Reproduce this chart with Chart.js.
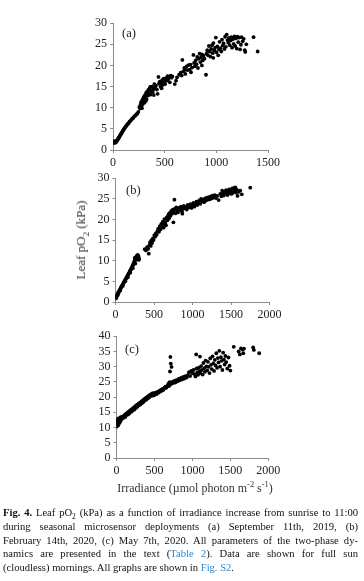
<!DOCTYPE html>
<html>
<head>
<meta charset="utf-8">
<script src="https://cdn.jsdelivr.net/npm/chart.js@4"></script>
<style>
    body { margin: 0; background: #fff; width: 364px; height: 581px; position: relative; overflow: hidden; font-family: "Liberation Serif", serif; color: #222; }
    canvas { position: absolute; }
    .tag { position: absolute; font-size: 12.5px; line-height: 1; }
    #ytitle { position: absolute; left: 81px; top: 240px; transform: translate(-50%, -50%) rotate(-90deg); white-space: nowrap; font-size: 13px; font-weight: normal; color: #333; }
    #xtitle { position: absolute; left: 195px; top: 488px; transform: translate(-50%, -50%); white-space: nowrap; font-size: 12px; color: #333; }
    sub, sup { font-size: 70%; line-height: 0; }
    #caption { position: absolute; left: 3px; top: 506px; width: 355px; font-size: 10.6px; line-height: 13.8px; color: #111; }
    #caption div { text-align: justify; text-align-last: justify; white-space: nowrap; }
    #caption div.last { text-align-last: left; }
    .lnk { color: #2e8bd0; }
</style>
</head>
<body>
<canvas id="panelA" width="230" height="159"></canvas>
<canvas id="panelB" width="230" height="156"></canvas>
<canvas id="panelC" width="230" height="154"></canvas>

<div class="tag" style="left:122px; top:27px;">(a)</div>
<div class="tag" style="left:126px; top:184px;">(b)</div>
<div class="tag" style="left:125px; top:343px;">(c)</div>

<div id="ytitle">Leaf pO<sub>2</sub> (kPa)</div>
<div id="xtitle">Irradiance (µmol photon m<sup>-2</sup> s<sup>-1</sup>)</div>

<div id="caption">
    <div><b>Fig. 4.</b> Leaf pO<sub>2</sub> (kPa) as a function of irradiance increase from sunrise to 11:00</div>
    <div>during seasonal microsensor deployments (a) September 11th, 2019, (b)</div>
    <div>February 14th, 2020, (c) May 7th, 2020. All parameters of the two-phase dy-</div>
    <div>namics are presented in the text (<span class="lnk">Table 2</span>). Data are shown for full sun</div>
    <div class="last">(cloudless) mornings. All graphs are shown in <span class="lnk">Fig. S2</span>.</div>
</div>

<script>
// (a) September 11th, 2019
const aX = [3,6,9,12,15,18,21,24,27,30,33,36,40,44,48,52,56,60,65,70,75,80,85,90,95,100,105,110,116,122,128,134,140,146,152,160,168,176,185,195,205,215,225,235,245,
    255,262,268,272,278,283,288,292,296,300,305,310,315,320,325,330,338,342,350,355,362,370,378,385,392,400,408,415,425,432,440,445,452,460,468,475,483,490,498,505,
    512,520,528,535,542,550,558,566,575,598,620,640,655,665,671,680,690,700,712,720,730,742,755,765,778,785,792,800,808,815,822,830,838,845,852,860,868,876,885,900,
    905,912,920,928,935,942,950,958,965,970,972,980,988,995,1002,1010,1018,1025,1032,1040,1048,1055,1062,1070,1078,1085,1092,1100,1108,1115,1122,1130,1138,1145,1152,
    1160,1168,1175,1182,1190,1198,1205,1212,1220,1230,1238,1245,1255,1265,1275,1280,1290,1360,1400,
    280,318,360,395,470,530,610,700,750,860];
const aY = [1.9,1.7,2.0,1.8,2.1,1.7,1.9,2.0,1.8,2.1,2.0,2.2,2.3,2.4,2.6,2.8,2.9,3.1,3.3,3.5,3.7,3.9,4.1,4.3,4.5,4.7,4.9,5.1,5.3,5.5,5.7,5.9,6.1,6.2,6.4,6.7,6.9,7.1,7.4,7.6,7.9,8.1,8.4,8.6,9.0,
    10.2,9.8,10.8,11.3,10.5,11.8,10.9,12.2,11.5,12.6,11.2,13.0,12.4,13.5,12.0,13.8,12.9,14.2,13.4,14.6,13.1,14.0,15.0,13.7,14.4,15.6,14.8,15.2,14.3,13.3,17.3,15.7,16.2,15.0,15.8,16.5,15.4,16.9,16.2,15.6,
    17.0,16.4,17.5,16.8,17.2,16.0,17.6,17.1,17.4,15.6,17.2,17.8,18.3,17.6,21.3,18.6,19.4,18.0,19.8,18.9,20.1,19.0,18.4,19.5,22.5,20.6,19.8,21.2,20.3,22.0,19.4,21.6,22.8,20.8,21.9,22.6,21.2,22.3,21.6,17.8,
    22.8,23.6,22.4,24.6,23.3,22.1,23.9,24.8,22.9,21.8,25.3,23.6,24.2,26.6,23.1,24.5,22.4,23.8,25.6,24.1,23.3,26.1,24.7,25.2,23.9,26.8,24.4,27.3,26.0,25.4,26.5,24.8,25.9,26.7,24.2,
    26.2,25.1,26.9,24.6,26.4,24.0,26.8,25.5,26.6,23.8,24.9,26.7,25.7,26.3,23.6,23.2,25.0,26.7,23.3,
    9.9,11.6,14.9,13.0,14.6,16.6,16.4,19.0,20.2,20.0];

// (b) February 14th, 2020
const bX = [2,5,8,11,14,17,20,24,28,32,36,40,45,50,55,60,65,70,75,80,86,92,98,104,110,116,122,128,134,140,146,152,158,164,170,176,182,188,194,200,206,212,218,224,230,236,242,248,254,260,266,272,278,284,290,296,302,308,
    250,262,275,288,300,
    380,395,410,425,432,440,450,458,465,475,485,495,505,515,525,535,545,555,565,575,585,595,605,615,625,635,645,655,665,675,685,695,705,715,725,735,745,752,760,765,772,780,790,800,812,825,838,850,862,868,875,888,
    900,912,925,938,950,962,975,988,1000,1012,1025,1038,1050,1062,1075,1088,1100,1112,1125,1138,1150,1162,1175,1188,1200,1212,1225,1238,1250,1262,1275,1290,1305,1320,1340,1360,1375,1385,1395,1405,1415,1425,
    1435,1445,1455,1465,1475,1485,1495,1505,1515,1525,1535,1545,1555,1565,1575,1585,1600,1620,1640,1750,
    30,62,95,128,160,192,225,258,620,690,740,1520,1550,1580];
const bY = [1.0,1.2,0.9,1.4,1.3,1.6,1.5,1.9,1.8,2.1,2.3,2.2,2.6,2.7,2.9,3.1,3.2,3.5,3.6,3.8,4.0,4.2,4.4,4.6,4.8,5.0,5.2,5.4,5.6,5.8,6.0,6.2,6.4,6.6,6.9,7.0,7.3,7.5,7.7,7.9,8.1,8.4,8.6,8.8,9.1,9.4,9.7,10.0,10.3,10.6,10.8,10.5,10.9,11.0,10.7,11.2,10.9,10.4,
    10.7,10.2,11.2,11.4,10.2,
    12.8,12.5,13.3,12.9,11.7,13.8,14.5,13.6,14.9,14.3,15.4,15.0,16.2,15.8,16.7,16.3,17.2,17.8,17.0,18.4,17.6,18.9,18.2,19.5,18.0,20.1,19.2,18.6,20.5,19.8,21.0,20.3,21.6,20.9,22.1,21.4,22.4,19.3,21.8,24.8,22.6,21.5,22.9,22.2,21.7,22.8,22.3,23.1,22.0,21.4,22.6,23.3,
    22.7,23.0,22.4,23.5,22.9,23.2,23.7,22.8,23.4,24.0,23.1,23.8,24.3,23.5,24.1,24.6,23.8,25.0,24.4,24.8,24.2,25.1,24.6,25.3,24.8,25.4,24.9,25.6,25.1,25.8,25.3,25.9,25.2,25.7,24.7,26.2,25.6,27.0,26.4,25.8,26.7,26.1,
    27.1,26.5,25.9,26.8,27.3,26.4,27.0,26.2,27.5,26.8,27.6,26.9,27.8,26.5,27.2,25.7,26.7,27.0,26.1,27.7,
    1.7,2.8,3.9,5.0,6.0,7.1,8.2,9.3,18.9,21.3,22.0,26.4,27.2,26.9];

// (c) May 7th, 2020
const cX = [2,4,6,8,10,12,14,16,18,20,22,25,28,30,33,36,40,44,48,52,56,60,65,70,75,80,85,
    100,110,120,130,140,150,160,170,180,190,200,210,220,230,240,250,260,270,280,290,300,310,320,330,340,350,360,370,380,390,400,410,420,430,440,450,460,470,480,490,500,
    510,520,530,540,555,570,585,600,615,630,645,660,675,685,695,700,710,715,725,720,735,745,760,775,790,805,820,835,850,865,880,895,910,925,940,955,970,985,1000,1015,1030,1040,
    1050,1055,1065,1075,1085,1095,1100,1105,1115,1125,1135,1145,1155,1165,1175,1185,1195,1205,1215,1225,1235,1245,1255,1265,1275,1285,1295,1305,1315,1325,1335,1345,1355,1365,1375,1385,1395,1405,
    1415,1425,1435,1445,1460,1475,1490,1500,1545,1610,1625,1640,1660,1670,1680,1800,1810,1880,
    5,15,25,35,45,55,95,115,135,155,175,195,215,235,255,275,295,315,335,355,375,395,415,435,455,475,495,530,560,590,620,650,680,705];
const cY = [10.3,11.8,12.6,11.0,12.2,10.6,11.5,12.9,11.2,12.4,10.9,11.7,12.8,11.3,12.0,13.1,11.6,12.5,12.1,13.0,12.3,12.7,13.3,12.9,13.2,13.6,13.4,
    13.9,14.2,14.3,14.6,14.7,15.0,15.1,15.4,15.5,15.8,15.9,16.2,16.3,16.6,16.7,17.0,17.2,17.4,17.5,17.8,17.9,18.2,18.3,18.6,18.7,19.0,19.1,19.4,19.5,19.8,19.9,20.1,20.3,20.4,20.7,20.8,21.0,21.2,20.9,21.3,21.0,
    21.4,21.2,21.6,21.5,21.9,22.1,22.4,22.6,22.3,23.0,23.4,23.2,23.9,24.5,23.7,24.9,33.2,31.0,29.9,24.3,25.0,24.6,25.3,24.8,25.6,25.2,26.0,25.5,26.3,25.8,26.6,26.1,26.9,26.4,27.2,28.2,26.9,28.6,27.8,28.9,27.5,26.8,
    34.0,29.4,28.1,27.3,29.7,28.6,33.3,27.8,30.2,28.9,27.4,31.2,29.5,28.3,32.0,30.1,28.8,31.6,29.9,27.9,32.7,30.6,29.2,33.4,31.1,28.6,32.2,30.4,34.4,29.6,32.8,31.4,35.2,30.0,33.1,31.9,28.9,34.6,
    32.3,30.7,33.5,31.5,29.4,33.0,30.3,28.7,36.5,35.0,34.0,36.0,35.6,34.4,35.9,36.3,35.5,34.4,
    11.4,12.3,10.8,12.5,11.9,13.4,13.2,13.5,14.1,14.3,14.8,15.2,15.6,15.9,16.4,16.8,17.3,17.6,18.0,18.4,18.9,19.2,19.6,20.0,20.4,20.5,20.6,21.0,21.5,22.0,22.6,23.0,23.6,28.4];

const tickFont = { family: 'Liberation Serif', size: 12 };
const axisGrey = '#8c8c8c';

function makePanel(id, xs, ys, xMax, xStep, yMax, box) {
    const canvas = document.getElementById(id);
    canvas.style.left = '70px';
    canvas.style.top = (box.top - 10) + 'px';
    canvas.width = 230;
    canvas.height = Math.round(box.bottom - box.top + 32);

    const points = xs.map((x, i) => ({ x: x, y: ys[i] }));

    return new Chart(canvas.getContext('2d'), {
        type: 'scatter',
        data: {
            datasets: [{
                data: points,
                pointRadius: 1.9,
                pointBackgroundColor: '#000',
                pointBorderWidth: 0
            }]
        },
        options: {
            responsive: false,
            animation: false,
            layout: {
                padding: { top: 10, right: 300 - box.right, left: 0, bottom: 0 }
            },
            plugins: {
                legend: { display: false },
                tooltip: { enabled: false }
            },
            scales: {
                x: {
                    type: 'linear',
                    min: 0,
                    max: xMax,
                    afterFit: function(scale) { scale.height = 22; },
                    grid: { drawOnChartArea: false, drawTicks: true, tickLength: 3, color: axisGrey },
                    border: { color: axisGrey },
                    ticks: {
                        stepSize: xStep, font: tickFont, color: '#222', padding: 3, maxRotation: 0, autoSkip: false,
                        callback: function(v) { return String(v); }
                    }
                },
                y: {
                    min: 0,
                    max: yMax,
                    afterFit: function(scale) { scale.width = box.left - 70; },
                    grid: { drawOnChartArea: false, drawTicks: true, tickLength: 3, color: axisGrey },
                    border: { color: axisGrey },
                    ticks: { stepSize: 5, font: tickFont, color: '#222', padding: 3, autoSkip: false }
                }
            }
        }
    });
}

makePanel('panelA', aX, aY, 1500, 500, 30, { left: 113, right: 268, top: 22.5, bottom: 149.5 });
makePanel('panelB', bX, bY, 2000, 500, 30, { left: 115.5, right: 269.5, top: 178.3, bottom: 302.7 });
makePanel('panelC', cX, cY, 2000, 500, 40, { left: 116.5, right: 268.3, top: 336, bottom: 457.7 });
</script>
</body>
</html>
